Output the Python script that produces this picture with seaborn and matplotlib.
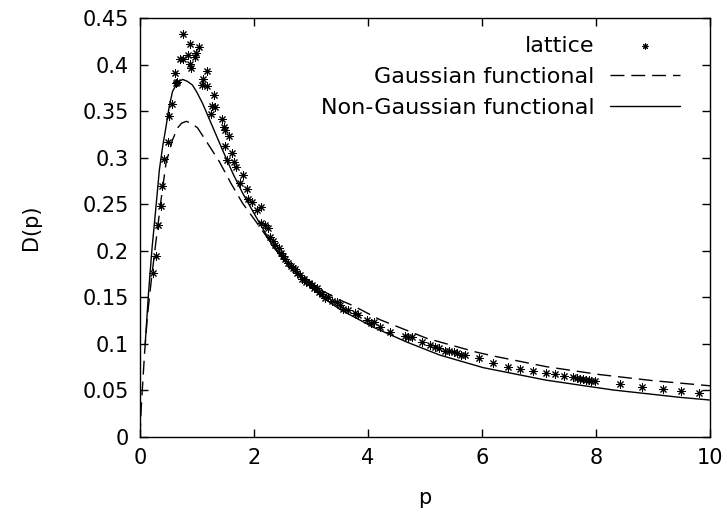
import matplotlib
matplotlib.use("Agg")
import matplotlib.pyplot as plt
import seaborn as sns
import pandas as pd

# lattice data (p, D)
lattice_p = [0.23, 0.275, 0.31, 0.36, 0.39, 0.427, 0.497, 0.515, 0.556, 0.62, 0.63, 0.643,
             0.70, 0.76, 0.76, 0.85, 0.877, 0.877, 0.895, 0.965, 0.982, 1.035, 1.08, 1.10,
             1.17, 1.17, 1.246, 1.257, 1.30, 1.316, 1.43, 1.48, 1.49, 1.49, 1.52, 1.56,
             1.62, 1.65, 1.68, 1.75, 1.81, 1.87, 1.90, 1.96, 2.05, 2.12, 2.13, 2.20, 2.25,
             2.28, 2.33, 2.37, 2.43, 2.47, 2.51, 2.55, 2.60, 2.65, 2.69, 2.72, 2.75, 2.80,
             2.84, 2.88, 2.92, 2.96, 3.01, 3.05, 3.10, 3.14, 3.19, 3.25, 3.30, 3.36, 3.45,
             3.50, 3.57, 3.65, 3.77, 3.82, 3.98, 4.06, 4.10, 4.21, 4.39, 4.65, 4.70, 4.77,
             4.94, 5.09, 5.18, 5.25, 5.35, 5.42, 5.50, 5.57, 5.64, 5.70, 5.94, 6.19, 6.46,
             6.67, 6.89, 7.13, 7.28, 7.43, 7.60, 7.67, 7.72, 7.78, 7.83, 7.88, 7.92, 7.98,
             8.42, 8.80, 9.17, 9.49, 9.80]
lattice_D = [0.176, 0.194, 0.228, 0.248, 0.270, 0.299, 0.317, 0.345, 0.358, 0.391, 0.380, 0.381,
             0.406, 0.406, 0.433, 0.410, 0.422, 0.401, 0.396, 0.408, 0.412, 0.419, 0.378, 0.385,
             0.393, 0.377, 0.347, 0.355, 0.367, 0.354, 0.342, 0.333, 0.330, 0.313, 0.297, 0.323,
             0.305, 0.295, 0.290, 0.273, 0.281, 0.266, 0.256, 0.252, 0.244, 0.247, 0.230, 0.228, 0.224,
             0.215, 0.210, 0.206, 0.203, 0.198, 0.194, 0.191, 0.187, 0.184, 0.182, 0.180, 0.176, 0.174,
             0.170, 0.170, 0.167, 0.165, 0.163, 0.160, 0.160, 0.156, 0.154, 0.149, 0.150, 0.146, 0.145,
             0.142, 0.138, 0.136, 0.133, 0.131, 0.126, 0.122, 0.124, 0.118, 0.113, 0.108, 0.107, 0.107,
             0.102, 0.099, 0.097, 0.096, 0.092, 0.092, 0.091, 0.090, 0.088, 0.088, 0.085, 0.080, 0.075,
             0.073, 0.071, 0.069, 0.068, 0.066, 0.064, 0.063, 0.0625, 0.062, 0.0615, 0.061, 0.0605, 0.060,
             0.0566, 0.054, 0.052, 0.0497, 0.0476]

# Gaussian functional (dashed)
gauss_p = [0.0, 0.02, 0.05, 0.08, 0.13, 0.205, 0.28, 0.37, 0.456, 0.57, 0.66, 0.73, 0.81,
           0.90, 1.01, 1.19, 1.39, 1.60, 1.80, 2.05, 2.34, 2.63, 2.92, 3.20, 3.51, 3.74,
           4.21, 4.62, 5.03, 5.44, 5.91, 6.20, 7.13, 8.07, 9.00, 10.0]
gauss_D = [0.0, 0.030, 0.060, 0.090, 0.130, 0.172, 0.210, 0.255, 0.294, 0.319, 0.332, 0.337, 0.339,
           0.337, 0.332, 0.315, 0.296, 0.272, 0.251, 0.230, 0.205, 0.185, 0.170, 0.157, 0.147, 0.141,
           0.126, 0.116, 0.106, 0.099, 0.091, 0.087, 0.0755, 0.067, 0.0605, 0.055]

# Non-Gaussian functional (solid)
ngauss_p = [0.09, 0.15, 0.21, 0.263, 0.34, 0.40, 0.456, 0.51, 0.57, 0.66, 0.75, 0.83, 0.92,
            1.00, 1.10, 1.275, 1.45, 1.63, 1.80, 2.03, 2.34, 2.63, 2.92, 3.20, 3.51, 4.09,
            4.68, 5.26, 6.02, 7.13, 8.30, 9.47, 10.0]
ngauss_D = [0.099, 0.155, 0.202, 0.236, 0.287, 0.313, 0.333, 0.354, 0.371, 0.381, 0.384, 0.382, 0.378,
            0.370, 0.358, 0.333, 0.308, 0.283, 0.262, 0.237, 0.204, 0.182, 0.166, 0.150, 0.137, 0.118,
            0.102, 0.088, 0.0745, 0.061, 0.0505, 0.0426, 0.0397]

sns.set_theme(style="ticks")
plt.rcParams['font.family'] = ['DejaVu Sans']
plt.rcParams['font.size'] = 15
plt.rcParams['text.color'] = 'black'
plt.rcParams['axes.labelcolor'] = 'black'

fig = plt.figure(figsize=(7.28, 5.14), dpi=100)
ax = fig.add_axes([140/728, 1-437/514, 570/728, 419/514])

df_lat = pd.DataFrame({'p': lattice_p, 'D': lattice_D})
df_g = pd.DataFrame({'p': gauss_p, 'D': gauss_D})
df_n = pd.DataFrame({'p': ngauss_p, 'D': ngauss_D})

sns.scatterplot(data=df_lat, x='p', y='D', ax=ax, marker=(8, 2, 0), s=28,
                color='black', linewidth=0.75, edgecolor='black', label='lattice', zorder=3)
sns.lineplot(data=df_g, x='p', y='D', ax=ax, sort=False, estimator=None, color='black',
             linewidth=1.0, linestyle=(0, (10, 5)), label='Gaussian functional')
sns.lineplot(data=df_n, x='p', y='D', ax=ax, sort=False, estimator=None, color='black',
             linewidth=1.0, label='Non-Gaussian functional')

ax.set_xlim(0, 10)
ax.set_ylim(0, 0.45)
ax.set_xticks([0, 2, 4, 6, 8, 10])
ax.set_yticks([0, 0.05, 0.1, 0.15, 0.2, 0.25, 0.3, 0.35, 0.4, 0.45])
ax.set_yticklabels(['0', '0.05', '0.1', '0.15', '0.2', '0.25', '0.3', '0.35', '0.4', '0.45'])
ax.tick_params(direction='in', length=6, width=1, top=True, right=True, labelsize=15,
               colors='black', pad=8)
for s in ax.spines.values():
    s.set_linewidth(1.0)
    s.set_color('black')
ax.set_xlabel('p', fontsize=15, labelpad=14, color='black')
ax.set_ylabel('D(p)', fontsize=15, labelpad=30, color='black')

leg = ax.legend(loc='upper right', bbox_to_anchor=(0.947, 0.958), frameon=False,
                markerfirst=False, fontsize=16, handlelength=3.15, handletextpad=0.68,
                labelspacing=0.5, borderpad=0, borderaxespad=0, markerscale=0.7)
for t in leg.get_texts():
    t.set_ha('right')
    t.set_color('black')

fig.savefig('out.png', dpi=100)
